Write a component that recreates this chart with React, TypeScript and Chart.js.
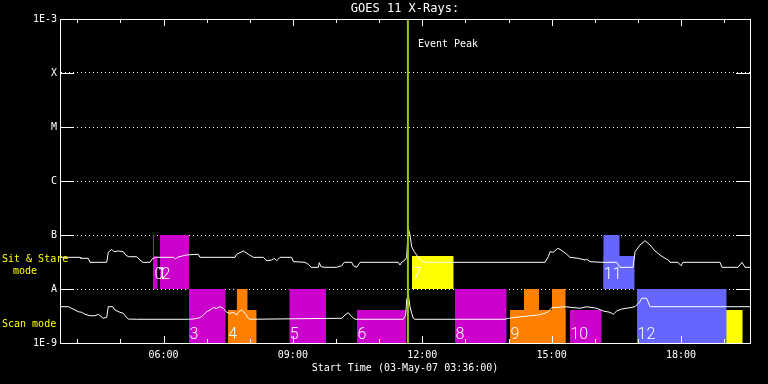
import React, { useEffect, useRef } from 'react';
import { Chart, registerables } from 'chart.js';

Chart.register(...registerables);

// ---- time axis (decimal hours UT, 03-May-07) ----
const startHour = 3.6;
const endHour = 19.6;
const xTickHours = [6, 9, 12, 15, 18];
const xTickLabels = ['06:00', '09:00', '12:00', '15:00', '18:00'];
const minorTickHours = [4, 5, 6, 7, 8, 9, 10, 11, 12, 13, 14, 15, 16, 17, 18, 19];
const eventPeakHour = 11.667;

// ---- flux axis ----
const yTickValues = [1e-9, 1e-8, 1e-7, 1e-6, 1e-5, 1e-4, 1e-3];
const yTickLabels = ['1E-9', 'A', 'B', 'C', 'M', 'X', '1E-3'];

// ---- GOES 11 long channel (upper curve) ----
const longTimes = [
  3.6, 4.064, 4.08, 4.256, 4.296, 4.683, 4.72, 4.799, 4.852, 4.952, 5.068, 5.107, 5.184, 5.379,
  5.455, 5.518, 5.687, 5.75, 5.842, 6.227, 6.283, 6.32, 6.522, 6.807, 6.846, 7.658, 7.697, 7.85,
  7.966, 8.082, 8.314, 8.393, 8.509, 8.569, 8.625, 8.701, 8.973, 9.01, 9.281, 9.358, 9.42, 9.59,
  9.613, 9.652, 9.745, 10.016, 10.132, 10.192, 10.364, 10.401, 10.48, 10.557, 11.445, 11.484,
  11.523, 11.6, 11.639, 11.676, 11.716, 11.755, 11.815, 11.871, 11.948, 12.064, 14.846, 14.923,
  14.962, 15.039, 15.141, 15.194, 15.271, 15.349, 15.426, 15.619, 15.774, 15.813, 15.89, 16.161,
  16.509, 16.586, 16.888, 16.935, 17.051, 17.167, 17.282, 17.398, 17.514, 17.63, 17.706, 17.745,
  17.931, 18.0, 18.046, 18.904, 18.951, 19.322, 19.414, 19.484, 19.6,
];
const longFlux = [
  3.86e-8, 3.86e-8, 3.7e-8, 3.7e-8, 3.12e-8, 3.12e-8, 4.78e-8, 5.43e-8, 4.91e-8, 5.06e-8, 4.91e-8,
  4.4e-8, 3.96e-8, 3.96e-8, 3.44e-8, 3.12e-8, 3.12e-8, 3.7e-8, 3.86e-8, 3.86e-8, 3.59e-8, 3.86e-8,
  4.26e-8, 4.4e-8, 3.86e-8, 3.86e-8, 4.4e-8, 5.06e-8, 4.4e-8, 3.86e-8, 3.86e-8, 3.34e-8, 3.44e-8,
  3.7e-8, 3.34e-8, 3.86e-8, 3.86e-8, 3.21e-8, 3.12e-8, 2.87e-8, 2.52e-8, 2.52e-8, 3.07e-8, 2.59e-8,
  2.52e-8, 2.52e-8, 2.7e-8, 3.12e-8, 3.12e-8, 2.7e-8, 2.52e-8, 3.12e-8, 3.12e-8, 2.78e-8, 3.12e-8,
  3.44e-8, 3.86e-8, 1.33e-7, 1.0e-7, 6.07e-8, 4.91e-8, 4.26e-8, 3.44e-8, 3.12e-8, 3.12e-8, 3.96e-8,
  4.91e-8, 4.78e-8, 5.67e-8, 5.43e-8, 4.91e-8, 4.4e-8, 3.86e-8, 3.7e-8, 3.44e-8, 3.55e-8, 3.21e-8,
  3.12e-8, 3.12e-8, 2.52e-8, 2.52e-8, 4.91e-8, 6.53e-8, 7.84e-8, 6.53e-8, 5.06e-8, 4.26e-8, 3.7e-8,
  3.44e-8, 3.12e-8, 3.12e-8, 2.7e-8, 3.12e-8, 3.12e-8, 2.52e-8, 2.52e-8, 3.12e-8, 2.52e-8, 2.52e-8,
];

// ---- GOES 11 short channel (lower curve) ----
const shortTimes = [
  3.6, 3.792, 3.871, 3.948, 4.024, 4.103, 4.18, 4.296, 4.412, 4.488, 4.604, 4.683, 4.72, 4.822,
  4.875, 4.991, 5.068, 5.107, 5.184, 5.379, 6.575, 6.691, 6.846, 6.923, 7.002, 7.078, 7.155, 7.234,
  7.31, 7.387, 7.465, 7.542, 7.619, 7.697, 7.734, 7.813, 7.89, 7.966, 8.006, 10.132, 10.209,
  10.285, 10.364, 10.441, 11.561, 11.617, 11.639, 11.676, 11.716, 11.755, 11.792, 11.832, 13.919,
  13.995, 14.306, 14.691, 14.846, 14.923, 15.002, 15.31, 15.658, 15.813, 16.045, 16.198, 16.353,
  16.43, 16.509, 16.625, 16.817, 16.933, 17.049, 17.088, 17.204, 17.282, 19.6,
];
const shortFlux = [
  4.7e-9, 4.7e-9, 4.39e-9, 4.08e-9, 3.8e-9, 3.7e-9, 3.4e-9, 3.2e-9, 3.2e-9, 3.4e-9, 2.87e-9, 2.99e-9,
  4.7e-9, 4.7e-9, 4.08e-9, 3.7e-9, 3.55e-9, 3.2e-9, 2.78e-9, 2.75e-9, 2.75e-9, 2.78e-9, 2.94e-9,
  3.3e-9, 3.8e-9, 4.08e-9, 4.51e-9, 4.39e-9, 4.7e-9, 4.39e-9, 3.7e-9, 3.55e-9, 3.7e-9, 3.3e-9,
  3.7e-9, 4.08e-9, 3.55e-9, 2.87e-9, 2.75e-9, 2.87e-9, 3.3e-9, 3.64e-9, 3.07e-9, 2.75e-9, 2.75e-9,
  3.3e-9, 6.25e-9, 8.07e-9, 4.7e-9, 3.55e-9, 2.87e-9, 2.75e-9, 2.75e-9, 2.87e-9, 3.07e-9, 3.3e-9,
  3.55e-9, 3.8e-9, 4.51e-9, 4.7e-9, 4.39e-9, 4.7e-9, 4.39e-9, 3.91e-9, 3.7e-9, 3.4e-9, 3.91e-9,
  4.26e-9, 4.51e-9, 4.7e-9, 5.82e-9, 6.73e-9, 6.73e-9, 4.7e-9, 4.7e-9,
];

// ---- observation blocks (upper row: Sit & Stare, lower row: Scan) ----
const blockStart = [5.757, 5.757, 5.919, 11.762, 16.198, 16.198, 6.591, 7.489, 7.697, 8.917, 10.487, 12.759, 14.035, 14.359, 15.009, 15.426, 16.98, 19.043];
const blockEnd = [5.78, 5.865, 6.591, 12.729, 16.579, 16.926, 7.442, 8.161, 7.952, 9.768, 11.63, 13.958, 15.326, 14.707, 15.326, 16.161, 19.059, 19.431];
const blockTop = [1e-7, 4.1e-8, 1e-7, 4.1e-8, 1e-7, 4.1e-8, 1e-8, 4.1e-9, 1e-8, 1e-8, 4.1e-9, 1e-8, 4.1e-9, 1e-8, 1e-8, 4.1e-9, 1e-8, 4.1e-9];
const blockBase = [1e-8, 1e-8, 1e-8, 1e-8, 1e-8, 1e-8, 1e-9, 1e-9, 1e-9, 1e-9, 1e-9, 1e-9, 1e-9, 1e-9, 1e-9, 1e-9, 1e-9, 1e-9];
const blockKind = ['m', 'm', 'm', 'y', 'b', 'b', 'm', 'o', 'o', 'm', 'm', 'm', 'o', 'o', 'o', 'm', 'b', 'y'];

// ---- block numbers ----
const labelText = ['0', '1', '2', '7', '11', '3', '4', '5', '6', '8', '9', '10', '12'];
const labelHour = [5.78, 5.849, 5.942, 11.762, 16.198, 6.591, 7.489, 8.917, 10.487, 12.759, 14.035, 15.426, 16.98];
const labelRow = ['up', 'up', 'up', 'up', 'up', 'lo', 'lo', 'lo', 'lo', 'lo', 'lo', 'lo', 'lo'];

// ---- styles ----
const kindColor: Record<string, string> = { m: '#cc00cc', o: '#ff8000', y: '#ffff00', b: '#6666ff' };
const MONO = '"DejaVu Sans Mono", monospace';

const frameTicks = {
  id: 'frameTicks',
  afterDatasetsDraw(chart: any) {
    const { ctx, chartArea, scales } = chart;
    const { left, right, top, bottom } = chartArea;
    const x = scales.x;
    const y = scales.y;
    ctx.save();
    ctx.strokeStyle = '#ffffff';
    ctx.lineWidth = 1;
    ctx.beginPath();
    for (const h of minorTickHours) {
      const px = Math.round(x.getPixelForValue(h)) + 0.5;
      const len = xTickHours.includes(h) ? 7 : 4;
      ctx.moveTo(px, bottom);
      ctx.lineTo(px, bottom - len);
      ctx.moveTo(px, top);
      ctx.lineTo(px, top + len);
    }
    for (const v of yTickValues) {
      const py = Math.round(y.getPixelForValue(v)) + 0.5;
      ctx.moveTo(left, py);
      ctx.lineTo(left + 14, py);
      ctx.moveTo(right - 14, py);
      ctx.lineTo(right, py);
    }
    ctx.stroke();
    ctx.restore();
  },
};

const annotations = {
  id: 'annotations',
  afterDraw(chart: any) {
    const { ctx, chartArea, scales } = chart;
    const x = scales.x;
    const y = scales.y;
    ctx.save();
    ctx.textAlign = 'left';
    ctx.textBaseline = 'alphabetic';
    // block numbers
    ctx.fillStyle = '#ffffff';
    ctx.font = '300 16px Roboto, "DejaVu Sans", sans-serif';
    const upBase = y.getPixelForValue(1e-8) - 10.5;
    const loBase = y.getPixelForValue(1e-9) - 4;
    labelText.forEach((t, i) => {
      const px = x.getPixelForValue(labelHour[i]) + 0.5;
      ctx.fillText(t, px, labelRow[i] === 'up' ? upBase : loBase);
    });
    // event peak
    ctx.font = '10px ' + MONO;
    ctx.fillText('Event Peak', x.getPixelForValue(eventPeakHour) + 10, chartArea.top + 28);
    // row names
    ctx.fillStyle = '#ffff00';
    const upMid = y.getPixelForValue(Math.sqrt(1e-8 * 1e-7));
    const loMid = y.getPixelForValue(Math.sqrt(1e-9 * 1e-8));
    ctx.fillText('Sit & Stare', 2, upMid);
    ctx.fillText('mode', 13, upMid + 12);
    ctx.fillText('Scan mode', 2, loMid + 11);
    ctx.restore();
  },
};

export default function App() {
  const ref = useRef<HTMLCanvasElement | null>(null);

  useEffect(() => {
    if (!ref.current) return;
    const datasets: any[] = [];
    datasets.push({
      label: 'Event Peak',
      data: [
        { x: eventPeakHour, y: 1e-9 },
        { x: eventPeakHour, y: 1e-3 },
      ],
      borderColor: '#99cc00',
      borderWidth: 2,
      pointRadius: 0,
      fill: false,
      order: 0,
      xAxisID: 'x',
      yAxisID: 'y',
    });
    datasets.push({
      label: 'long',
      data: longTimes.map((t, i) => ({ x: t, y: longFlux[i] })),
      borderColor: '#ffffff',
      borderWidth: 1,
      pointRadius: 0,
      fill: false,
      order: 1,
      xAxisID: 'x',
      yAxisID: 'y',
    });
    datasets.push({
      label: 'short',
      data: shortTimes.map((t, i) => ({ x: t, y: shortFlux[i] })),
      borderColor: '#ffffff',
      borderWidth: 1,
      pointRadius: 0,
      fill: false,
      order: 1,
      xAxisID: 'x',
      yAxisID: 'y',
    });
    blockStart.forEach((s, i) => {
      datasets.push({
        label: 'block' + i,
        data: [
          { x: s, y: blockTop[i] },
          { x: blockEnd[i], y: blockTop[i] },
        ],
        borderWidth: 0,
        borderColor: kindColor[blockKind[i]],
        backgroundColor: kindColor[blockKind[i]],
        pointRadius: 0,
        fill: { value: blockBase[i] },
        order: 3,
        xAxisID: 'x',
        yAxisID: 'y',
      });
    });

    const chart = new Chart(ref.current, {
      type: 'line',
      data: { datasets },
      plugins: [frameTicks, annotations],
      options: {
        animation: false,
        responsive: true,
        maintainAspectRatio: false,
        layout: { padding: 0 },
        elements: { line: { tension: 0 }, point: { radius: 0 } },
        plugins: {
          legend: { display: false },
          tooltip: { enabled: false },
          title: { display: false },
        },
        scales: {
          x: {
            type: 'linear',
            position: 'bottom',
            min: startHour,
            max: endHour,
            afterBuildTicks: (s: any) => {
              s.ticks = xTickHours.map((v) => ({ value: v }));
            },
            afterFit: (s: any) => {
              s.height = 41;
            },
            ticks: {
              color: '#ffffff',
              font: { family: MONO, size: 10 },
              padding: 6,
              maxRotation: 0,
              autoSkip: false,
              callback: (_v: any, i: number) => xTickLabels[i],
            },
            grid: { display: false, drawTicks: false },
            border: { display: true, color: '#ffffff', width: 1, z: 1 },
            title: {
              display: true,
              text: 'Start Time (03-May-07 03:36:00)',
              color: '#ffffff',
              font: { family: MONO, size: 10 },
              padding: { top: 0, bottom: 10 },
            },
          },
          x2: {
            type: 'linear',
            position: 'top',
            min: startHour,
            max: endHour,
            afterFit: (s: any) => {
              s.height = 19;
            },
            ticks: { display: false },
            grid: { display: false, drawTicks: false },
            border: { display: true, color: '#ffffff', width: 1, z: 1 },
            title: {
              display: true,
              text: 'GOES 11 X-Rays:',
              color: '#ffffff',
              font: { family: MONO, size: 12 },
              padding: { top: 2, bottom: 0 },
            },
          },
          y: {
            type: 'logarithmic',
            position: 'left',
            min: 1e-9,
            max: 1e-3,
            afterBuildTicks: (s: any) => {
              s.ticks = yTickValues.map((v) => ({ value: v }));
            },
            afterFit: (s: any) => {
              s.width = 60;
            },
            ticks: {
              color: '#ffffff',
              font: { family: MONO, size: 10 },
              padding: 3,
              autoSkip: false,
              callback: (_v: any, i: number) => yTickLabels[i],
            },
            grid: { color: '#ffffff', lineWidth: 1, drawTicks: false },
            border: { display: true, color: '#ffffff', width: 1, dash: [1, 3], z: 1 },
          },
          y2: {
            type: 'logarithmic',
            position: 'right',
            min: 1e-9,
            max: 1e-3,
            afterFit: (s: any) => {
              s.width = 18;
            },
            ticks: { display: false },
            grid: { display: false, drawTicks: false },
            border: { display: true, color: '#ffffff', width: 1, z: 1 },
          },
        },
      } as any,
    });
    return () => chart.destroy();
  }, []);

  return (
    <div
      style={{
        position: 'absolute',
        left: 0,
        top: 0,
        width: 768,
        height: 384,
        background: '#000000',
      }}
    >
      <canvas ref={ref} />
    </div>
  );
}
